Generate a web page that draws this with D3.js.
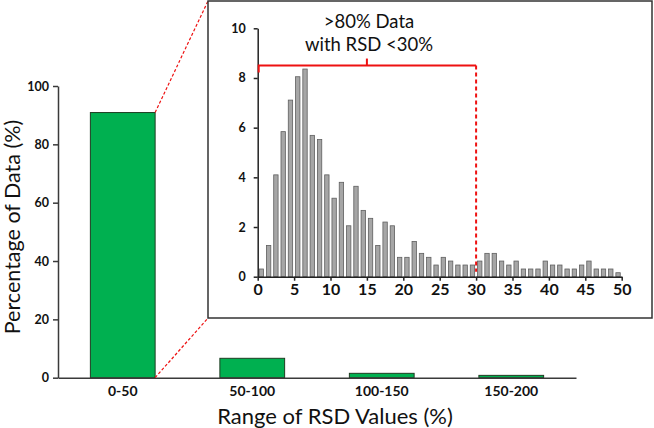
<!DOCTYPE html>
<html>
<head>
<meta charset="utf-8">
<script src="https://cdn.jsdelivr.net/npm/d3@7"></script>
<style>
  html, body { margin: 0; padding: 0; background: #fff; }
  svg { display: block; }
  text { font-family: Lato, "Open Sans", sans-serif; }
</style>
</head>
<body>
<svg id="chart" width="654" height="428"></svg>
<script>
// ---- data ----
const mainCategories = ["0-50", "50-100", "100-150", "150-200"];
const mainValues = [90.9, 6.65, 1.5, 0.8];
const mainYTicks = [0, 20, 40, 60, 80, 100];

const insetBins = d3.range(0, 50); // bin starts 0..49 (width 1)
const insetValues = [
  0.31, 1.26, 4.10, 5.84, 7.11, 8.05, 8.36, 5.69, 5.52, 4.10,
  3.16, 3.80, 2.05, 3.64, 2.67, 2.35, 1.26, 2.20, 2.05, 0.78,
  0.78, 1.42, 0.94, 0.78, 0.47, 0.78, 0.63, 0.47, 0.47, 0.47,
  0.63, 0.94, 0.94, 0.63, 0.47, 0.63, 0.31, 0.31, 0.31, 0.63,
  0.47, 0.47, 0.31, 0.31, 0.47, 0.63, 0.31, 0.31, 0.31, 0.16
];
const insetXTicks = [0, 5, 10, 15, 20, 25, 30, 35, 40, 45, 50];
const insetYTicks = [0, 2, 4, 6, 8, 10];
const bracketRange = [0, 30];
const bracketLevel = 8.5;
const annotationLines = [">80% Data", "with RSD <30%"];

const svg = d3.select("#chart");
const axisColor = "#3a3a3a";

// ---- main chart ----
const x = d3.scaleBand().domain(mainCategories).range([58, 576])
  .paddingInner(0.5).paddingOuter(0.25);
const y = d3.scaleLinear().domain([0, 100]).range([377.7, 86]);

svg.append("g").selectAll("rect").data(mainCategories).join("rect")
  .attr("x", d => x(d))
  .attr("y", (d, i) => y(mainValues[i]))
  .attr("width", x.bandwidth())
  .attr("height", (d, i) => y(0) - y(mainValues[i]))
  .attr("fill", "#00b050")
  .attr("stroke", "#1f3d22")
  .attr("stroke-width", 1);

const yAxis = svg.append("g").attr("transform", "translate(58,0)")
  .call(d3.axisLeft(y).tickValues(mainYTicks).tickSize(5).tickSizeOuter(0).tickPadding(4));
yAxis.select(".domain").attr("stroke", axisColor).attr("stroke-width", 1.5);
yAxis.selectAll(".tick line").attr("stroke", axisColor).attr("stroke-width", 1.5);
yAxis.selectAll(".tick text").attr("font-size", 12.5).attr("font-weight", "bold").attr("fill", "#111")
  .style("font-family", "Lato, sans-serif");

const xAxis = svg.append("g").attr("transform", `translate(0,${y(0)})`)
  .call(d3.axisBottom(x).tickSize(0).tickSizeOuter(0).tickPadding(8));
xAxis.select(".domain").attr("stroke", axisColor).attr("stroke-width", 1.5);
xAxis.selectAll(".tick text").attr("font-size", 14).attr("font-weight", "bold").attr("fill", "#111")
  .style("font-family", "Lato, sans-serif");

svg.append("text")
  .attr("x", 335).attr("y", 424)
  .attr("text-anchor", "middle")
  .attr("font-size", 22).attr("fill", "#111")
  .text("Range of RSD Values (%)");

svg.append("text")
  .attr("transform", "translate(20,227) rotate(-90)")
  .attr("text-anchor", "middle")
  .attr("font-size", 21.5).attr("fill", "#111")
  .text("Percentage of Data (%)");

// ---- inset box + zoom lines ----
const box = { x0: 208, y0: 1, x1: 652, y1: 318 };
const firstBarRight = x(mainCategories[0]) + x.bandwidth();
svg.append("line")
  .attr("x1", firstBarRight).attr("y1", y(mainValues[0]))
  .attr("x2", box.x0).attr("y2", box.y0)
  .attr("stroke", "#ee1111").attr("stroke-width", 1.2).attr("stroke-dasharray", "3,2");
svg.append("line")
  .attr("x1", firstBarRight).attr("y1", y(0))
  .attr("x2", box.x0).attr("y2", box.y1)
  .attr("stroke", "#ee1111").attr("stroke-width", 1.2).attr("stroke-dasharray", "3,2");

svg.append("rect")
  .attr("x", box.x0).attr("y", box.y0)
  .attr("width", box.x1 - box.x0).attr("height", box.y1 - box.y0)
  .attr("fill", "#fff").attr("stroke", "#333").attr("stroke-width", 1.5);

// ---- inset chart ----
const ix = d3.scaleLinear().domain([0, 50]).range([257.7, 621.7]);
const iy = d3.scaleLinear().domain([0, 10]).range([276.7, 28.3]);
const barW = (ix(1) - ix(0)) * 0.6;

svg.append("g").selectAll("rect").data(insetBins).join("rect")
  .attr("x", d => ix(d + 0.5) - barW / 2)
  .attr("y", (d, i) => iy(insetValues[i]))
  .attr("width", barW)
  .attr("height", (d, i) => iy(0) - iy(insetValues[i]))
  .attr("fill", "#a6a6a6")
  .attr("stroke", "#5f5f5f")
  .attr("stroke-width", 0.8);

const iyAxis = svg.append("g").attr("transform", `translate(${ix(0)},0)`)
  .call(d3.axisLeft(iy).tickValues(insetYTicks).tickSize(4).tickSizeOuter(0).tickPadding(8));
iyAxis.select(".domain").attr("stroke", "#222").attr("stroke-width", 1.5);
iyAxis.selectAll(".tick line").attr("stroke", "#222").attr("stroke-width", 1.5);
iyAxis.selectAll(".tick text").attr("font-size", 12.5).attr("font-weight", "bold").attr("fill", "#111")
  .style("font-family", "Lato, sans-serif");

const ixAxis = svg.append("g").attr("transform", `translate(0,${iy(0)})`)
  .call(d3.axisBottom(ix).tickValues(insetXTicks).tickSize(4).tickSizeOuter(0).tickPadding(3));
ixAxis.select(".domain").attr("stroke", "#222").attr("stroke-width", 1.5);
ixAxis.selectAll(".tick line").attr("stroke", "#222").attr("stroke-width", 1.5);
ixAxis.selectAll(".tick text").attr("font-size", 16).attr("font-weight", "bold").attr("fill", "#111")
  .style("font-family", "Lato, sans-serif");

// ---- bracket annotation ----
const bx0 = ix(bracketRange[0]), bx1 = ix(bracketRange[1]);
const by = iy(bracketLevel);
const red = "#ee1111";
svg.append("path")
  .attr("d", `M${bx0 + 1},${by + 7}V${by}H${bx1}`)
  .attr("fill", "none").attr("stroke", red).attr("stroke-width", 2);
svg.append("line")
  .attr("x1", (bx0 + bx1) / 2).attr("x2", (bx0 + bx1) / 2)
  .attr("y1", by).attr("y2", by - 7)
  .attr("stroke", red).attr("stroke-width", 2);
svg.append("line")
  .attr("x1", bx1).attr("x2", bx1)
  .attr("y1", by).attr("y2", iy(0.2))
  .attr("stroke", red).attr("stroke-width", 2).attr("stroke-dasharray", "4,3");

svg.append("g").selectAll("text").data(annotationLines).join("text")
  .attr("x", 369)
  .attr("y", (d, i) => 28 + i * 23)
  .attr("text-anchor", "middle")
  .attr("font-size", 18.5).attr("fill", "#111")
  .text(d => d);
</script>
</body>
</html>
